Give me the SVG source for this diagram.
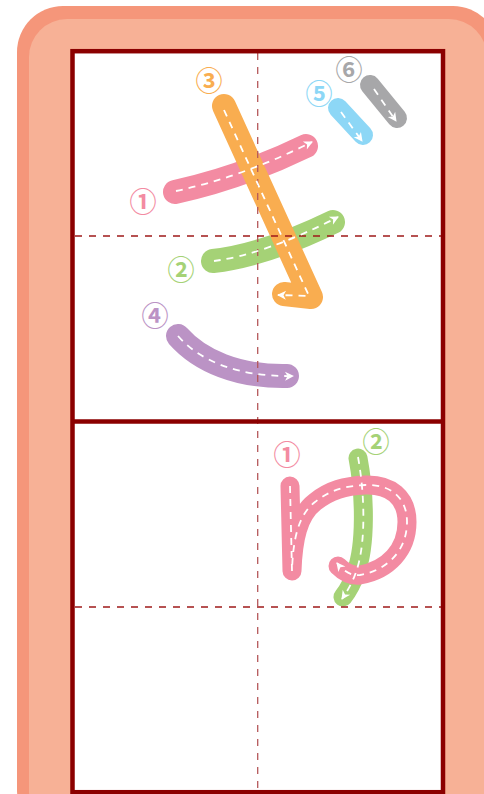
<svg xmlns="http://www.w3.org/2000/svg" width="484" height="794" viewBox="0 0 484 794">
<style>
.band{fill:none;stroke-linecap:round;stroke-linejoin:round}
.k{stroke-width:24}
.y{stroke-width:19}
.dash{fill:none;stroke:#fff;stroke-width:1.8;stroke-dasharray:7 6;marker-end:url(#ah)}
.grid{fill:none;stroke-width:1.3;stroke-dasharray:7 7}
.num{font-family:"Noto Sans CJK JP","Noto Sans CJK SC",sans-serif;font-size:27px;font-weight:700;text-anchor:middle;dominant-baseline:central}
.pink{stroke:#F38BA2}.orange{stroke:#F9AD50}.green{stroke:#A5D276}.purple{stroke:#BB93C5}.blue{stroke:#8DD7F6}.gray{stroke:#A7A7A9}
</style>
<defs>
<marker id="ah" markerUnits="userSpaceOnUse" markerWidth="12" markerHeight="12" viewBox="-10 -6 12 12" refX="0" refY="0" orient="auto">
<path d="M1,0 L-8,-4.5 L-5.5,0 L-8,4.5 Z" fill="#fff"/>
</marker>
</defs>
<g id="frame">
<rect x="17" y="6" width="482" height="830" rx="46" fill="#F5967A"/>
<rect x="29" y="19" width="458" height="810" rx="38" fill="#F7B196"/>
<rect x="72.5" y="51.2" width="370.5" height="741" fill="#fff"/>
</g>
<g id="ki-bands">
<path class="band k pink" d="M175,192 Q240,178 306,146"/>
<path class="band k green" d="M213,261 Q265,255 333,222"/>
<path class="band k orange" d="M224,106 L311,297 L284,294"/>
<path class="band k purple" d="M178,336 C200,361 238,377 287,376"/>
<path class="band blue" stroke-width="20" d="M338,108 L363,135"/>
<path class="band gray" stroke-width="20" d="M370,85 L397,118"/>
</g>
<g id="yu-bands">
<path class="band y green" d="M358,458 C365,495 366,545 356,572 C352,584 347,592 343,597"/>
<path class="band y pink" d="M290,486 L292,571 C293,540 298,515 315,502 C330,490 345,486 365,485 C390,484 407,497 407,522 C407,550 388,570 360,575 C352,576 344,572 338,566"/>
</g>
<g id="grid">
<line class="grid" x1="257.7" y1="53" x2="257.7" y2="790" stroke="#B5585A"/>
<line class="grid" x1="75" y1="236" x2="441" y2="236" stroke="#9E1A1A"/>
<line class="grid" x1="75" y1="607" x2="441" y2="607" stroke="#9E1A1A"/>
<rect x="72.5" y="51.2" width="370.5" height="741" fill="none" stroke="#8B0000" stroke-width="4.5"/>
<line x1="72.5" y1="421.5" x2="443" y2="421.5" stroke="#8B0000" stroke-width="4.5"/>
</g>
<g id="connectors">
<path class="dash" d="M176,191 Q242,177 312,142"/>
<path class="dash" d="M214,261 Q266,254 338,217"/>
<path class="dash" d="M224,110 L309,296 L278,295"/>
<path class="dash" d="M178,336 C200,361 238,377 293,376"/>
<path class="dash" d="M341,112 L362,141"/>
<path class="dash" d="M374,89 L396,121"/>
<path class="dash" d="M358,457 C365,495 366,545 356,572 C352,584 346,593 342,599"/>
<path class="dash" d="M290,486 L292,571 C293,540 298,515 315,502 C330,490 345,486 365,485 C390,484 407,497 407,522 C407,550 388,570 360,575 C352,576 344,572 337,563"/>
</g>
<g id="labels">
<text class="num" x="143" y="200" fill="#F38BA2">①</text>
<text class="num" x="181" y="268" fill="#A5D276">②</text>
<text class="num" x="209" y="79" fill="#F9AD50">③</text>
<text class="num" x="155" y="314" fill="#BB93C5">④</text>
<text class="num" x="319" y="92" fill="#8DD7F6">⑤</text>
<text class="num" x="349" y="68" fill="#A7A7A9">⑥</text>
<text class="num" x="287" y="453" fill="#F38BA2">①</text>
<text class="num" x="376" y="440" fill="#A5D276">②</text>
</g>
</svg>
